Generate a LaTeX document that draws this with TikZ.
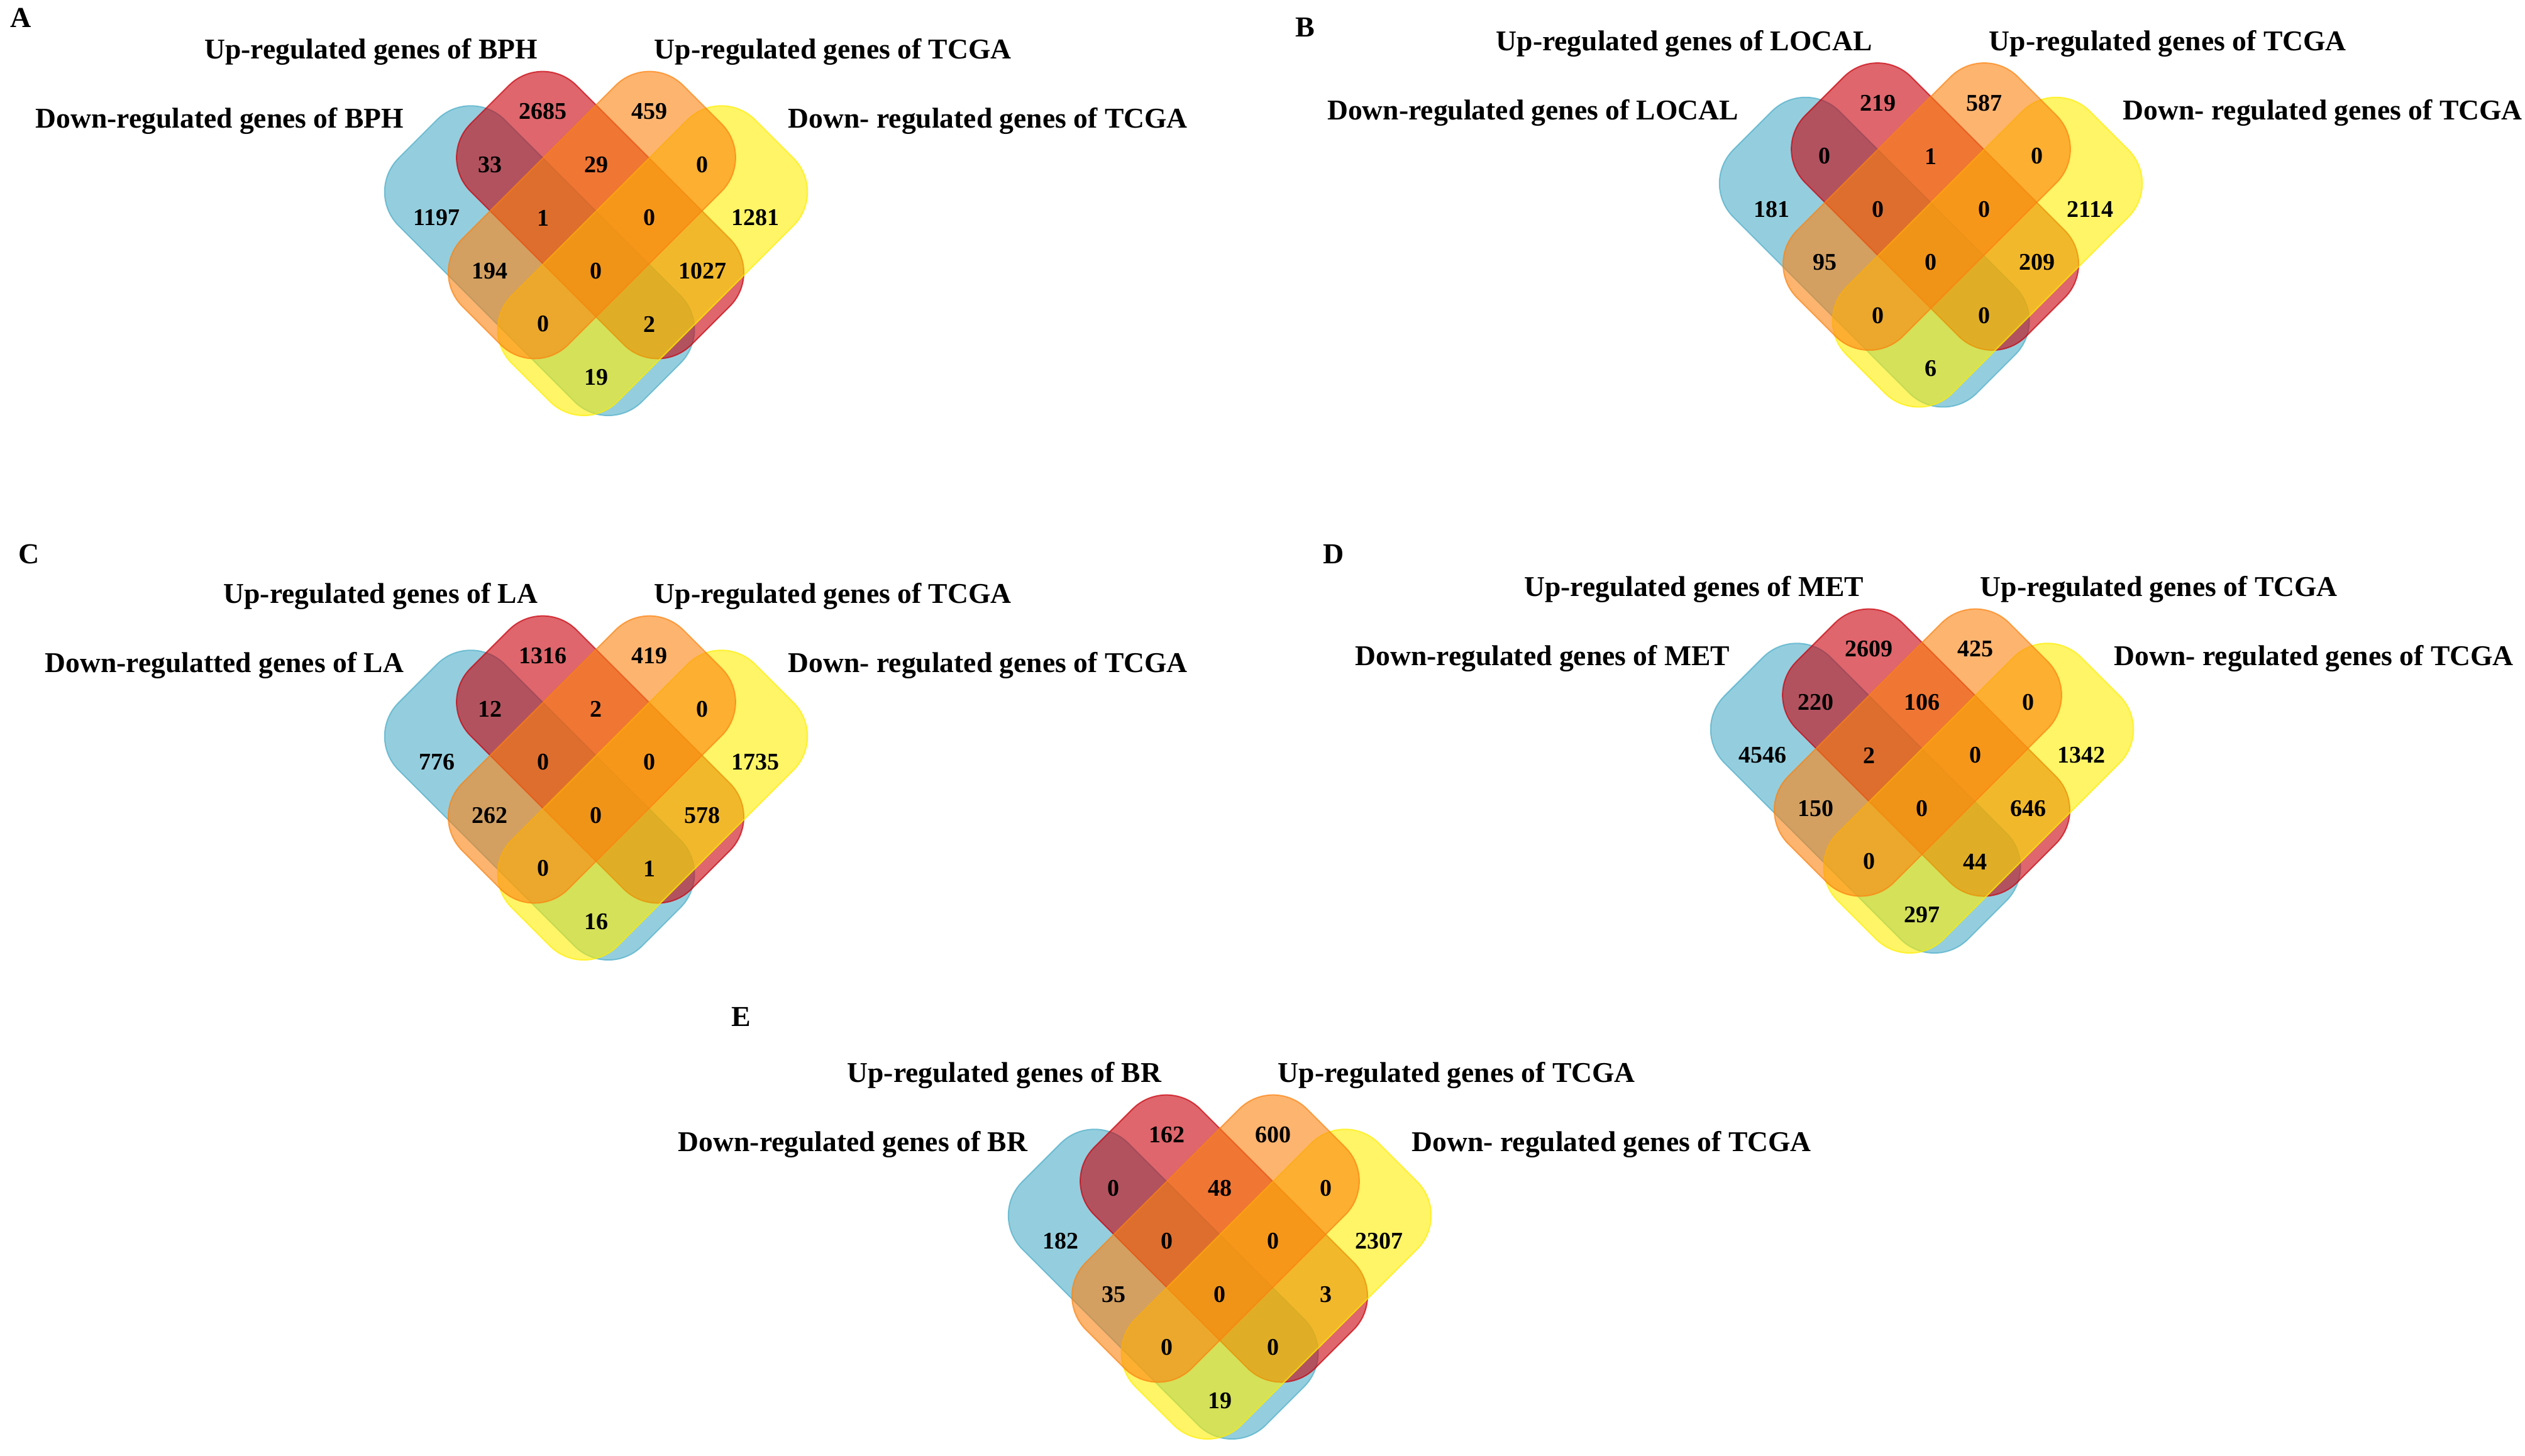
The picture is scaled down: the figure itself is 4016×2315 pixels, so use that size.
\documentclass[tikz,border=0pt]{standalone}
\usepackage{fontspec}
\setmainfont{Liberation Serif}

\definecolor{setblue}{RGB}{77,173,200}
\definecolor{setred}{RGB}{200,0,10}
\definecolor{setorange}{RGB}{252,130,15}
\definecolor{setyellow}{RGB}{255,238,0}

\tikzset{
  vset/.style={fill=#1, draw=#1, fill opacity=0.6, draw opacity=0.7, line width=0.5pt, rounded corners=19pt},
  num/.style={inner sep=0pt, font=\fontsize{9.5}{10}\selectfont\bfseries},
  setlabel/.style={inner sep=0pt, font=\fontsize{11.4}{13}\selectfont\bfseries},
  panel/.style={inner sep=0pt, font=\fontsize{11.5}{13}\selectfont\bfseries}
}

% the four rounded sets of one diagram, in lattice units
\newcommand{\vennsets}{%
  \draw[vset=setblue, shift={(-1,0)}, rotate=45] (-3.33,-1.41) rectangle (3.15,1.41);
  \draw[vset=setred, shift={(0,-1)}, rotate=45] (-2.83,-1.41) rectangle (3.05,1.41);
  \draw[vset=setyellow, shift={(1,0)}, rotate=-45] (-3.15,-1.41) rectangle (3.33,1.41);
  \draw[vset=setorange, shift={(0,-1)}, rotate=-45] (-3.05,-1.41) rectangle (2.83,1.41);
}

\begin{document}
\begin{tikzpicture}[x=0.25pt,y=0.25pt,yscale=-1,xscale=1]
\useasboundingbox (0,0) rectangle (4016,2315);

% Panel letters
\node[panel] (pA) at (33,28) {A};
\node[panel] (pB) at (2076,43) {B};
\node[panel] (pC) at (46,881) {C};
\node[panel] (pD) at (2121,881) {D};
\node[panel] (pE) at (1179,1617) {E};

%Venn A
\begin{scope}[shift={(948,420)}, x=21.125pt, y=21.125pt]
\vennsets
% Text Node
\node[setlabel, anchor=east] (aUl) at (-1.09,-3.99) {Up-regulated genes of BPH};
\node[setlabel, anchor=west] (aUr) at (1.09,-3.99) {Up-regulated genes of TCGA};
\node[setlabel, anchor=east] (aDl) at (-3.61,-2.69) {Down-regulated genes of BPH};
\node[setlabel, anchor=west] (aDr) at (3.61,-2.69) {Down- regulated genes of TCGA};
% Numbers
\node[num] (a1) at (-1,-2.87) {2685}; \node[num] (a2) at (1,-2.87) {459};
\node[num] (a3) at (-2,-1.87) {33}; \node[num] (a4) at (0,-1.87) {29}; \node[num] (a5) at (2,-1.87) {0};
\node[num] (a6) at (-3,-0.87) {1197}; \node[num] (a7) at (-1,-0.87) {1}; \node[num] (a8) at (1,-0.87) {0}; \node[num] (a9) at (3,-0.87) {1281};
\node[num] (a10) at (-2,0.13) {194}; \node[num] (a11) at (0,0.13) {0}; \node[num] (a12) at (2,0.13) {1027};
\node[num] (a13) at (-1,1.13) {0}; \node[num] (a14) at (1,1.13) {2};
\node[num] (a15) at (0,2.13) {19};
\end{scope}

%Venn B
\begin{scope}[shift={(3071,406.5)}, x=21.125pt, y=21.125pt]
\vennsets
% Text Node
\node[setlabel, anchor=east] (bUl) at (-1.09,-3.99) {Up-regulated genes of LOCAL};
\node[setlabel, anchor=west] (bUr) at (1.09,-3.99) {Up-regulated genes of TCGA};
\node[setlabel, anchor=east] (bDl) at (-3.61,-2.69) {Down-regulated genes of LOCAL};
\node[setlabel, anchor=west] (bDr) at (3.61,-2.69) {Down- regulated genes of TCGA};
% Numbers
\node[num] (b1) at (-1,-2.87) {219}; \node[num] (b2) at (1,-2.87) {587};
\node[num] (b3) at (-2,-1.87) {0}; \node[num] (b4) at (0,-1.87) {1}; \node[num] (b5) at (2,-1.87) {0};
\node[num] (b6) at (-3,-0.87) {181}; \node[num] (b7) at (-1,-0.87) {0}; \node[num] (b8) at (1,-0.87) {0}; \node[num] (b9) at (3,-0.87) {2114};
\node[num] (b10) at (-2,0.13) {95}; \node[num] (b11) at (0,0.13) {0}; \node[num] (b12) at (2,0.13) {209};
\node[num] (b13) at (-1,1.13) {0}; \node[num] (b14) at (1,1.13) {0};
\node[num] (b15) at (0,2.13) {6};
\end{scope}

%Venn C
\begin{scope}[shift={(948,1286)}, x=21.125pt, y=21.125pt]
\vennsets
% Text Node
\node[setlabel, anchor=east] (cUl) at (-1.09,-3.99) {Up-regulated genes of LA};
\node[setlabel, anchor=west] (cUr) at (1.09,-3.99) {Up-regulated genes of TCGA};
\node[setlabel, anchor=east] (cDl) at (-3.61,-2.69) {Down-regulatted genes of LA};
\node[setlabel, anchor=west] (cDr) at (3.61,-2.69) {Down- regulated genes of TCGA};
% Numbers
\node[num] (c1) at (-1,-2.87) {1316}; \node[num] (c2) at (1,-2.87) {419};
\node[num] (c3) at (-2,-1.87) {12}; \node[num] (c4) at (0,-1.87) {2}; \node[num] (c5) at (2,-1.87) {0};
\node[num] (c6) at (-3,-0.87) {776}; \node[num] (c7) at (-1,-0.87) {0}; \node[num] (c8) at (1,-0.87) {0}; \node[num] (c9) at (3,-0.87) {1735};
\node[num] (c10) at (-2,0.13) {262}; \node[num] (c11) at (0,0.13) {0}; \node[num] (c12) at (2,0.13) {578};
\node[num] (c13) at (-1,1.13) {0}; \node[num] (c14) at (1,1.13) {1};
\node[num] (c15) at (0,2.13) {16};
\end{scope}

%Venn D
\begin{scope}[shift={(3057,1275)}, x=21.125pt, y=21.125pt]
\vennsets
% Text Node
\node[setlabel, anchor=east] (dUl) at (-1.09,-3.99) {Up-regulated genes of MET};
\node[setlabel, anchor=west] (dUr) at (1.09,-3.99) {Up-regulated genes of TCGA};
\node[setlabel, anchor=east] (dDl) at (-3.61,-2.69) {Down-regulated genes of MET};
\node[setlabel, anchor=west] (dDr) at (3.61,-2.69) {Down- regulated genes of TCGA};
% Numbers
\node[num] (d1) at (-1,-2.87) {2609}; \node[num] (d2) at (1,-2.87) {425};
\node[num] (d3) at (-2,-1.87) {220}; \node[num] (d4) at (0,-1.87) {106}; \node[num] (d5) at (2,-1.87) {0};
\node[num] (d6) at (-3,-0.87) {4546}; \node[num] (d7) at (-1,-0.87) {2}; \node[num] (d8) at (1,-0.87) {0}; \node[num] (d9) at (3,-0.87) {1342};
\node[num] (d10) at (-2,0.13) {150}; \node[num] (d11) at (0,0.13) {0}; \node[num] (d12) at (2,0.13) {646};
\node[num] (d13) at (-1,1.13) {0}; \node[num] (d14) at (1,1.13) {44};
\node[num] (d15) at (0,2.13) {297};
\end{scope}

%Venn E
\begin{scope}[shift={(1940,2048)}, x=21.125pt, y=21.125pt]
\vennsets
% Text Node
\node[setlabel, anchor=east] (eUl) at (-1.09,-3.99) {Up-regulated genes of BR};
\node[setlabel, anchor=west] (eUr) at (1.09,-3.99) {Up-regulated genes of TCGA};
\node[setlabel, anchor=east] (eDl) at (-3.61,-2.69) {Down-regulated genes of BR};
\node[setlabel, anchor=west] (eDr) at (3.61,-2.69) {Down- regulated genes of TCGA};
% Numbers
\node[num] (e1) at (-1,-2.87) {162}; \node[num] (e2) at (1,-2.87) {600};
\node[num] (e3) at (-2,-1.87) {0}; \node[num] (e4) at (0,-1.87) {48}; \node[num] (e5) at (2,-1.87) {0};
\node[num] (e6) at (-3,-0.87) {182}; \node[num] (e7) at (-1,-0.87) {0}; \node[num] (e8) at (1,-0.87) {0}; \node[num] (e9) at (3,-0.87) {2307};
\node[num] (e10) at (-2,0.13) {35}; \node[num] (e11) at (0,0.13) {0}; \node[num] (e12) at (2,0.13) {3};
\node[num] (e13) at (-1,1.13) {0}; \node[num] (e14) at (1,1.13) {0};
\node[num] (e15) at (0,2.13) {19};
\end{scope}

\end{tikzpicture}
\end{document}
